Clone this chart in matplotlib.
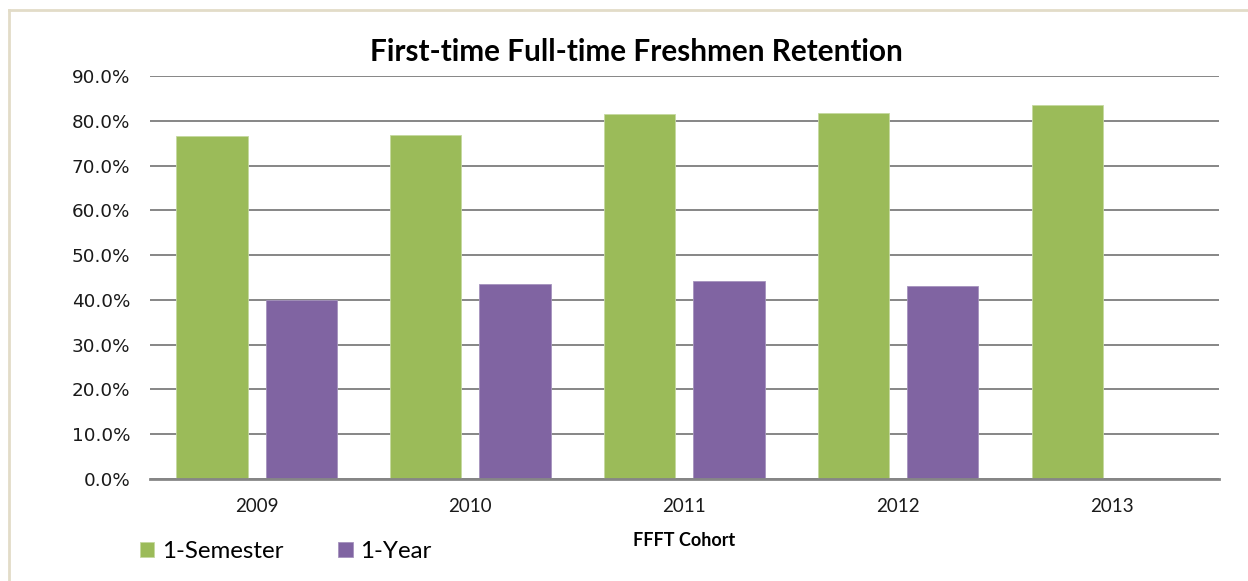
import matplotlib
matplotlib.use("Agg")
import matplotlib.pyplot as plt
import numpy as np
from matplotlib.lines import Line2D

years = ["2009", "2010", "2011", "2012", "2013"]
semester = [76.5, 76.8, 81.5, 81.7, 83.5]
one_year = [40.0, 43.5, 44.2, 43.1, np.nan]
series_names = ["1-Semester", "1-Year"]
yticks = [0, 10, 20, 30, 40, 50, 60, 70, 80, 90]

green = "#9BBB59"
purple = "#8064A2"
grid_c = "#868686"

plt.rcParams["font.family"] = ["DejaVu Sans"]

fig = plt.figure(figsize=(12.48, 5.81), dpi=100)
fig.patch.set_facecolor("white")
ax = fig.add_axes([149.6/1248, 1-479/581, (1219-149.6)/1248, (479-76)/581])

x = np.arange(len(years))
w = 0.333
off = 0.2085
ax.bar(x - off, semester, width=w, color=green, edgecolor="#C5D9A0", linewidth=0.6,
       label=series_names[0], zorder=3)
ax.bar(x + off, one_year, width=w, color=purple, edgecolor="#A593BD", linewidth=0.6,
       label=series_names[1], zorder=3)

ax.set_xlim(-0.5, len(years) - 0.5)
ax.set_ylim(0, 90)
ax.set_yticks(yticks)
ax.set_yticklabels([f"{v:.1f}%" for v in yticks], fontfamily="DejaVu Sans",
                   fontsize=13.2, color="#1a1a1a")
ax.set_xticks(x)
ax.set_xticklabels(years, fontfamily="Lato", fontsize=13.5, color="#1a1a1a")
ax.grid(axis="y", color=grid_c, linewidth=1.4, zorder=0)
ax.set_axisbelow(True)
for s in ["left", "right", "top"]:
    ax.spines[s].set_visible(False)
ax.spines["bottom"].set_color(grid_c)
ax.spines["bottom"].set_linewidth(2)
ax.spines["bottom"].set_zorder(4)
ax.tick_params(axis="both", length=0)
ax.tick_params(axis="y", pad=14)
ax.tick_params(axis="x", pad=14)

ax.set_xlabel("FFFT Cohort", fontfamily="Lato", fontweight="bold", fontsize=13,
              labelpad=12)

fig.text(636/1248, 1-52/581, "First-time Full-time Freshmen Retention", ha="center", va="center",
         fontfamily="Lato", fontweight="bold", fontsize=21.4)

leg = fig.legend(loc="center left", bbox_to_anchor=(140/1248, 1-551.5/581), ncol=2,
                 frameon=False, prop={"family": "Lato", "size": 17.3},
                 handlelength=0.6, handleheight=0.6, handletextpad=0.3,
                 columnspacing=2.3, borderpad=0, borderaxespad=0)

border_c = "#E2DCC8"
fig.add_artist(Line2D([9/1248, 9/1248], [0, 1-10/581], transform=fig.transFigure,
                      color=border_c, linewidth=2))
fig.add_artist(Line2D([9/1248, 1], [1-10/581, 1-10/581], transform=fig.transFigure,
                      color=border_c, linewidth=2))

fig.savefig("out.png", dpi=100)
